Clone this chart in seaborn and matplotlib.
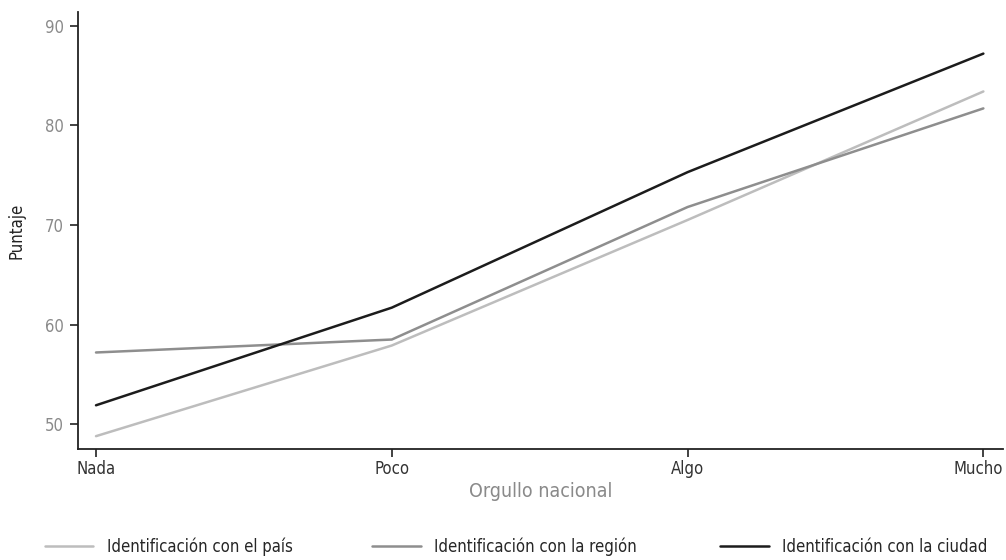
import pandas as pd
import matplotlib.pyplot as plt
import matplotlib.transforms as mtransforms
import seaborn as sns

# Data
niveles = ['Nada', 'Poco', 'Algo', 'Mucho']
pais = [48.8, 57.9, 70.5, 83.4]
region = [57.2, 58.5, 71.8, 81.7]
ciudad = [51.9, 61.7, 75.3, 87.2]
series = ['Identificación con el país', 'Identificación con la región', 'Identificación con la ciudad']
colores = ['#bdbdbd', '#8e8e8e', '#1c1c1c']

df = pd.DataFrame({
    'Orgullo': niveles * 3,
    'Puntaje': pais + region + ciudad,
    'Serie': [series[0]] * 4 + [series[1]] * 4 + [series[2]] * 4,
})
df['x'] = df['Orgullo'].map({n: i for i, n in enumerate(niveles)})

sns.set_style('ticks')
plt.rcParams['font.family'] = ['DejaVu Sans']
plt.rcParams['font.stretch'] = 'condensed'

fig = plt.figure(figsize=(10.06, 5.6), dpi=100)
ax = fig.add_axes([0.0775, 0.198, 0.92, 0.781])

sns.lineplot(data=df, x='x', y='Puntaje', hue='Serie', hue_order=series,
             palette=colores, linewidth=1.8, ax=ax, legend=False)

ax.set_xlim(-0.061, 3.068)
ax.set_ylim(47.5, 91.4)
ax.set_xticks(range(len(niveles)))
ax.set_xticklabels(niveles)
ax.set_yticks([50, 60, 70, 80, 90])
ax.tick_params(axis='x', labelsize=12, labelcolor='#333333', length=6, width=1.2, color='#222222', pad=2)
ax.tick_params(axis='y', labelsize=12, labelcolor='#8a8a8a', length=6, width=1.2, color='#222222', pad=4)
for s in ['left', 'bottom']:
    ax.spines[s].set_linewidth(1.3)
    ax.spines[s].set_color('#222222')
sns.despine(ax=ax)

# nudge the last label left so it stays inside the figure
ultimo = ax.get_xticklabels()[-1]
ultimo.set_transform(ultimo.get_transform() + mtransforms.ScaledTranslation(-0.05, 0, fig.dpi_scale_trans))

ax.set_xlabel('Orgullo nacional', fontsize=14, color='#8a8a8a', labelpad=3)
ax.set_ylabel('Puntaje', fontsize=12, color='#222222', labelpad=14)

# one legend entry per block, placed like the reference
pos_x = [0.0447, 0.370, 0.716]
for c, s, px in zip(colores, series, pos_x):
    h = plt.Line2D([], [], color=c, linewidth=1.8)
    fig.legend([h], [s], loc='lower left', bbox_to_anchor=(px, 0.007), frameon=False,
               fontsize=12, handlelength=2.9, handletextpad=0.8, borderpad=0, borderaxespad=0)

fig.savefig('out.png', dpi=100)
